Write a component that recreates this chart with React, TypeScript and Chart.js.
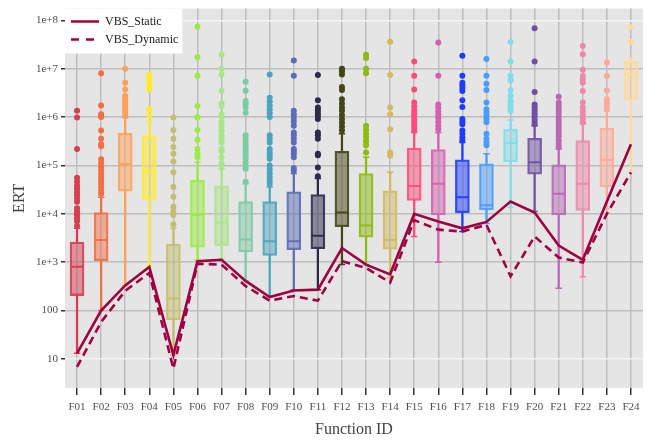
import React, { useEffect, useRef } from 'react';
import { Chart, registerables } from 'chart.js';

Chart.register(...registerables);

const categories = ['F01','F02','F03','F04','F05','F06','F07','F08','F09','F10','F11','F12','F13','F14','F15','F16','F17','F18','F19','F20','F21','F22','F23','F24'];

const whiskerLow = [13, 100, 324, 830, 12, 1120, 1170, 410, 200, 270, 270, 900, 890, 480, 3400, 1000, 4300, 6300, 13500, 11200, 290, 500, 12800, 72000];
const q1 = [204, 1070, 29500, 20000, 65, 2040, 2200, 1620, 1380, 1820, 1900, 5400, 3300, 1860, 19000, 9500, 10500, 12000, 120000, 66000, 9500, 11800, 36000, 2250000];
const median = [800, 2860, 107000, 76000, 177, 9500, 6600, 2950, 2700, 2700, 3500, 10600, 5700, 2860, 37500, 42000, 22000, 15000, 290000, 117000, 26000, 42000, 130000, 7600000];
const q3 = [2600, 10600, 461000, 413000, 2370, 49000, 38000, 17800, 17800, 28500, 25000, 197000, 68000, 30000, 230000, 214000, 131000, 108000, 560000, 363000, 103000, 325000, 590000, 14200000];
const whiskerHigh = [5000, 22000, 960000, 830000, 5000, 117000, 85000, 42000, 36000, 68000, 54000, 450000, 148000, 72000, 480000, 480000, 300000, 174000, 870000, 660000, 218000, 716000, 1350000, 16600000];

const vbsStatic = [13, 100, 330, 800, 12, 1050, 1120, 410, 190, 260, 270, 1960, 890, 560, 10000, 6900, 5000, 6800, 18000, 10600, 2200, 1120, 18000, 275000];
const vbsDynamic = [6.8, 58, 255, 600, 6.3, 930, 890, 320, 160, 200, 160, 1050, 760, 380, 7400, 4700, 4300, 5900, 510, 3400, 1250, 980, 10000, 72000];

const outF01 = [5600, 7000, 8100, 9300, 10000, 11200, 13000, 17800, 21000, 24500, 28000, 33000, 38000, 46000, 56000, 220000, 980000, 1350000];
const outF02 = [26000, 30000, 35500, 42000, 48000, 56000, 66000, 79000, 93000, 112000, 135000, 250000, 275000, 355000, 525000, 1000000, 1070000, 1150000, 1740000, 8100000];
const outF03 = [1070000, 1200000, 1350000, 1510000, 1700000, 1900000, 2140000, 2400000, 2750000, 3700000, 5100000, 10000000];
const outF04 = [1070000, 1450000, 3700000, 4400000, 5000000, 5750000, 6600000, 7600000];
const outF05 = [6000, 9500, 11200, 14000, 22400, 36000, 72000, 120000, 174000, 240000, 355000, 540000, 980000];
const outF06 = [148000, 174000, 220000, 340000, 540000, 980000, 1000000, 1700000, 7200000, 17400000, 74000000];
const outF07 = [100000, 112000, 148000, 200000, 220000, 300000, 355000, 420000, 525000, 630000, 780000, 1000000, 1150000, 1700000, 1900000, 3500000, 7600000, 10000000, 19500000];
const outF08 = [46000, 85000, 100000, 117000, 138000, 158000, 186000, 220000, 257000, 300000, 355000, 420000, 1230000, 1580000, 1860000, 2140000, 3500000, 5400000];
const outF09 = [42000, 48000, 57500, 69000, 83000, 100000, 138000, 162000, 186000, 220000, 300000, 355000, 420000, 1000000, 1200000, 1450000, 1740000, 2090000, 2510000, 7600000];
const outF10 = [79000, 89000, 148000, 174000, 200000, 220000, 300000, 355000, 420000, 480000, 660000, 800000, 955000, 1150000, 1350000, 7200000, 14800000];
const outF11 = [60000, 91000, 162000, 174000, 355000, 420000, 480000, 910000, 1070000, 1200000, 1380000, 1580000, 2240000, 7400000];
const outF12 = [525000, 630000, 760000, 910000, 1100000, 1350000, 1580000, 1900000, 2340000, 3630000, 4170000, 7600000, 8900000, 10000000];
const outF13 = [186000, 263000, 316000, 380000, 457000, 550000, 660000, 8100000, 10000000, 16600000, 19500000];
const outF14 = [158000, 186000, 560000, 1150000, 1580000, 7400000, 36000000];
const outF15 = [525000, 600000, 690000, 800000, 910000, 1050000, 1200000, 1380000, 1660000, 2000000, 3700000, 7200000, 14100000];
const outF16 = [560000, 660000, 800000, 955000, 1120000, 1320000, 1580000, 1820000, 7200000, 34700000];
const outF17 = [330000, 380000, 450000, 525000, 710000, 800000, 910000, 1620000, 2240000, 3470000, 4000000, 4570000, 5100000, 7200000, 18600000];
const outF18 = [263000, 300000, 355000, 450000, 780000, 910000, 1070000, 1260000, 1450000, 2000000, 3630000, 4900000, 7200000, 15800000];
const outF19 = [1350000, 1580000, 1860000, 2190000, 2750000, 3630000, 5750000, 7200000, 14100000, 35500000];
const outF20 = [710000, 800000, 910000, 1050000, 1200000, 1380000, 1580000, 1820000, 3300000, 14100000, 69000000];
const outF21 = [240000, 282000, 330000, 400000, 470000, 550000, 645000, 760000, 890000, 1050000, 1230000, 1450000, 1700000, 2000000, 2630000];
const outF22 = [780000, 910000, 1100000, 1320000, 1580000, 2000000, 3470000, 5100000, 6000000, 7100000, 9500000, 20000000, 29500000];
const outF23 = [1450000, 1700000, 2000000, 2340000, 3550000, 7100000, 13500000];
const outF24 = [36300000, 72400000];

const outliers = [outF01, outF02, outF03, outF04, outF05, outF06, outF07, outF08, outF09, outF10, outF11, outF12, outF13, outF14, outF15, outF16, outF17, outF18, outF19, outF20, outF21, outF22, outF23, outF24];

const yTickValues = [10, 100, 1000, 10000, 100000, 1000000, 10000000, 100000000];
const yTickLabels = ['10', '100', '1e+3', '1e+4', '1e+5', '1e+6', '1e+7', '1e+8'];

const boxColors = ['#D53E4F','#F46D43','#FDA25A','#FFEB2E','#C4BF6E','#99EC42','#A8E68A','#7DCBA4','#4DA3BE','#5A6DB5','#2B2B4D','#45451A','#8DBB10','#D2BA60','#FF4D7A','#D660B0','#1F3DFF','#4A9DFF','#80DDEB','#7050A2','#BA68B5','#EE88AA','#FFAA98','#FFDA9A'];

const LINE_COLOR = '#9E0142';
const FONT = "'Liberation Serif', 'Times New Roman', serif";

function rgba(hex: string, a: number) {
  const n = parseInt(hex.slice(1), 16);
  return `rgba(${(n >> 16) & 255},${(n >> 8) & 255},${n & 255},${a})`;
}

const bgPlugin = {
  id: 'plotBg',
  beforeDraw(chart: any) {
    const { ctx, chartArea } = chart;
    if (!chartArea) return;
    ctx.save();
    ctx.fillStyle = '#E5E5E5';
    ctx.fillRect(chartArea.left, chartArea.top, chartArea.right - chartArea.left, chartArea.bottom - chartArea.top);
    ctx.restore();
  },
};

const legendBgPlugin = {
  id: 'legendBg',
  afterLayout(chart: any) {
    const lg = chart.legend;
    if (!lg || !chart.chartArea) return;
    const wantTop = chart.chartArea.top + 1;
    const dy = wantTop - lg.top;
    lg.top += dy;
    lg.bottom += dy;
  },
  afterDatasetsDraw(chart: any) {
    const lg = chart.legend;
    if (!lg || !lg.legendHitBoxes || !lg.legendHitBoxes.length) return;
    const hb = lg.legendHitBoxes;
    const ctx = chart.ctx;
    const l = chart.chartArea.left;
    const t = chart.chartArea.top;
    const r = Math.max(...hb.map((b: any) => b.left + b.width)) + 4;
    const btm = Math.max(...hb.map((b: any) => b.top + b.height)) + 8;
    ctx.save();
    ctx.fillStyle = '#ffffff';
    ctx.fillRect(l, t, r - l, btm - t);
    ctx.restore();
    lg.draw();
  },
};

export default function App() {
  const ref = useRef<HTMLCanvasElement | null>(null);
  useEffect(() => {
    document.body.style.margin = '0';
    if (!ref.current) return;

    const outlierPoints: any[] = [];
    const outlierColors: string[] = [];
    outliers.forEach((vals, i) => {
      vals.forEach((v) => {
        outlierPoints.push({ x: categories[i], y: v });
        outlierColors.push(boxColors[i]);
      });
    });
    const capPoints: any[] = [];
    const capColors: string[] = [];
    categories.forEach((c, i) => {
      capPoints.push({ x: c, y: whiskerLow[i] });
      capColors.push(boxColors[i]);
      capPoints.push({ x: c, y: whiskerHigh[i] });
      capColors.push(boxColors[i]);
    });

    const chart = new Chart(ref.current, {
      type: 'bar',
      data: {
        labels: categories,
        datasets: [
          {
            type: 'line', label: 'VBS_Static', data: vbsStatic,
            borderColor: LINE_COLOR, borderWidth: 2.6, pointRadius: 0, fill: false, tension: 0,
          } as any,
          {
            type: 'line', label: 'VBS_Dynamic', data: vbsDynamic,
            borderColor: LINE_COLOR, borderWidth: 2.6, borderDash: [8, 5], pointRadius: 0, fill: false, tension: 0,
          } as any,
          {
            type: 'line', label: 'outliers', data: outlierPoints, showLine: false,
            pointRadius: 3, pointBorderWidth: 0, pointBackgroundColor: outlierColors, pointBorderColor: outlierColors,
          } as any,
          {
            type: 'line', label: 'median', data: median, showLine: false,
            pointStyle: 'line', pointRadius: 6.5, pointBorderWidth: 2,
            pointBorderColor: boxColors.map((c) => rgba(c, 0.95)),
          } as any,
          {
            type: 'line', label: 'caps', data: capPoints, showLine: false,
            pointStyle: 'line', pointRadius: 3.2, pointBorderWidth: 1.5, pointBorderColor: capColors,
          } as any,
          {
            type: 'bar', label: 'box', data: categories.map((_, i) => [q1[i], q3[i]]),
            backgroundColor: boxColors.map((c) => rgba(c, 0.5)),
            borderColor: boxColors.map((c) => rgba(c, 0.9)),
            borderWidth: 1.6, borderSkipped: false, barThickness: 14, grouped: false,
          } as any,
          {
            type: 'bar', label: 'upper', data: categories.map((_, i) => [q3[i], whiskerHigh[i]]),
            backgroundColor: boxColors, borderWidth: 0, barThickness: 1.6, grouped: false,
          } as any,
          {
            type: 'bar', label: 'lower', data: categories.map((_, i) => [whiskerLow[i], q1[i]]),
            backgroundColor: boxColors, borderWidth: 0, barThickness: 1.6, grouped: false,
          } as any,
        ],
      },
      options: {
        responsive: false,
        animation: false,
        devicePixelRatio: 1,
        layout: { padding: { top: 3, right: 14, bottom: 0, left: 0 } },
        plugins: {
          tooltip: { enabled: false },
          legend: {
            display: true,
            position: 'chartArea' as any,
            align: 'start',
            labels: {
              usePointStyle: true,
              pointStyleWidth: 28,
              padding: 6,
              color: '#1a1a1a',
              font: { family: FONT, size: 12 },
              generateLabels: () => [
                { text: 'VBS_Static', fillStyle: LINE_COLOR, strokeStyle: LINE_COLOR, lineWidth: 2.6, lineDash: [], pointStyle: 'line', hidden: false, datasetIndex: 0, fontColor: '#1a1a1a' } as any,
                { text: 'VBS_Dynamic', fillStyle: LINE_COLOR, strokeStyle: LINE_COLOR, lineWidth: 2.6, lineDash: [8, 7], pointStyle: 'line', hidden: false, datasetIndex: 1, fontColor: '#1a1a1a' } as any,
              ],
            },
          },
        },
        scales: {
          x: {
            type: 'category',
            offset: true,
            grid: { offset: false, color: '#bdbdbd', lineWidth: 1.5, tickColor: '#333333', tickLength: 7, drawTicks: true },
            border: { display: false },
            ticks: { font: { family: FONT, size: 11 }, color: '#4d4d4d', padding: 6, maxRotation: 0, autoSkip: false },
            title: { display: true, text: 'Function ID', font: { family: FONT, size: 16 }, color: '#444444', padding: { top: 0, bottom: 4 } },
            afterFit: (scale: any) => { scale.height = 55; scale.paddingLeft = 0; scale.paddingRight = 0; },
          },
          y: {
            type: 'logarithmic',
            min: 2.5,
            max: 176000000,
            afterBuildTicks: (scale: any) => { scale.ticks = yTickValues.map((v) => ({ value: v })); },
            grid: {
              color: (ctx: any) => (ctx.tick && (ctx.tick.value === 10 || ctx.tick.value === 100000000) ? '#f2f2f2' : '#bdbdbd'),
              lineWidth: 1.5, tickColor: '#333333', tickLength: 4, drawTicks: true,
            },
            border: { display: false },
            ticks: {
              font: { family: FONT, size: 11 }, color: '#4d4d4d', padding: 3,
              callback: (_v: any, i: number) => yTickLabels[i],
            },
            title: { display: true, text: 'ERT', font: { family: FONT, size: 16 }, color: '#444444', padding: { top: 10, bottom: 0 } },
            afterFit: (scale: any) => { scale.width = 65; scale.paddingTop = 0; scale.paddingBottom = 0; },
          },
        },
      } as any,
      plugins: [bgPlugin, legendBgPlugin],
    });
    return () => chart.destroy();
  }, []);

  return (
    <div style={{ width: 657, height: 443 }}>
      <canvas ref={ref} width={657} height={443} style={{ display: 'block', width: 657, height: 443 }} />
    </div>
  );
}
